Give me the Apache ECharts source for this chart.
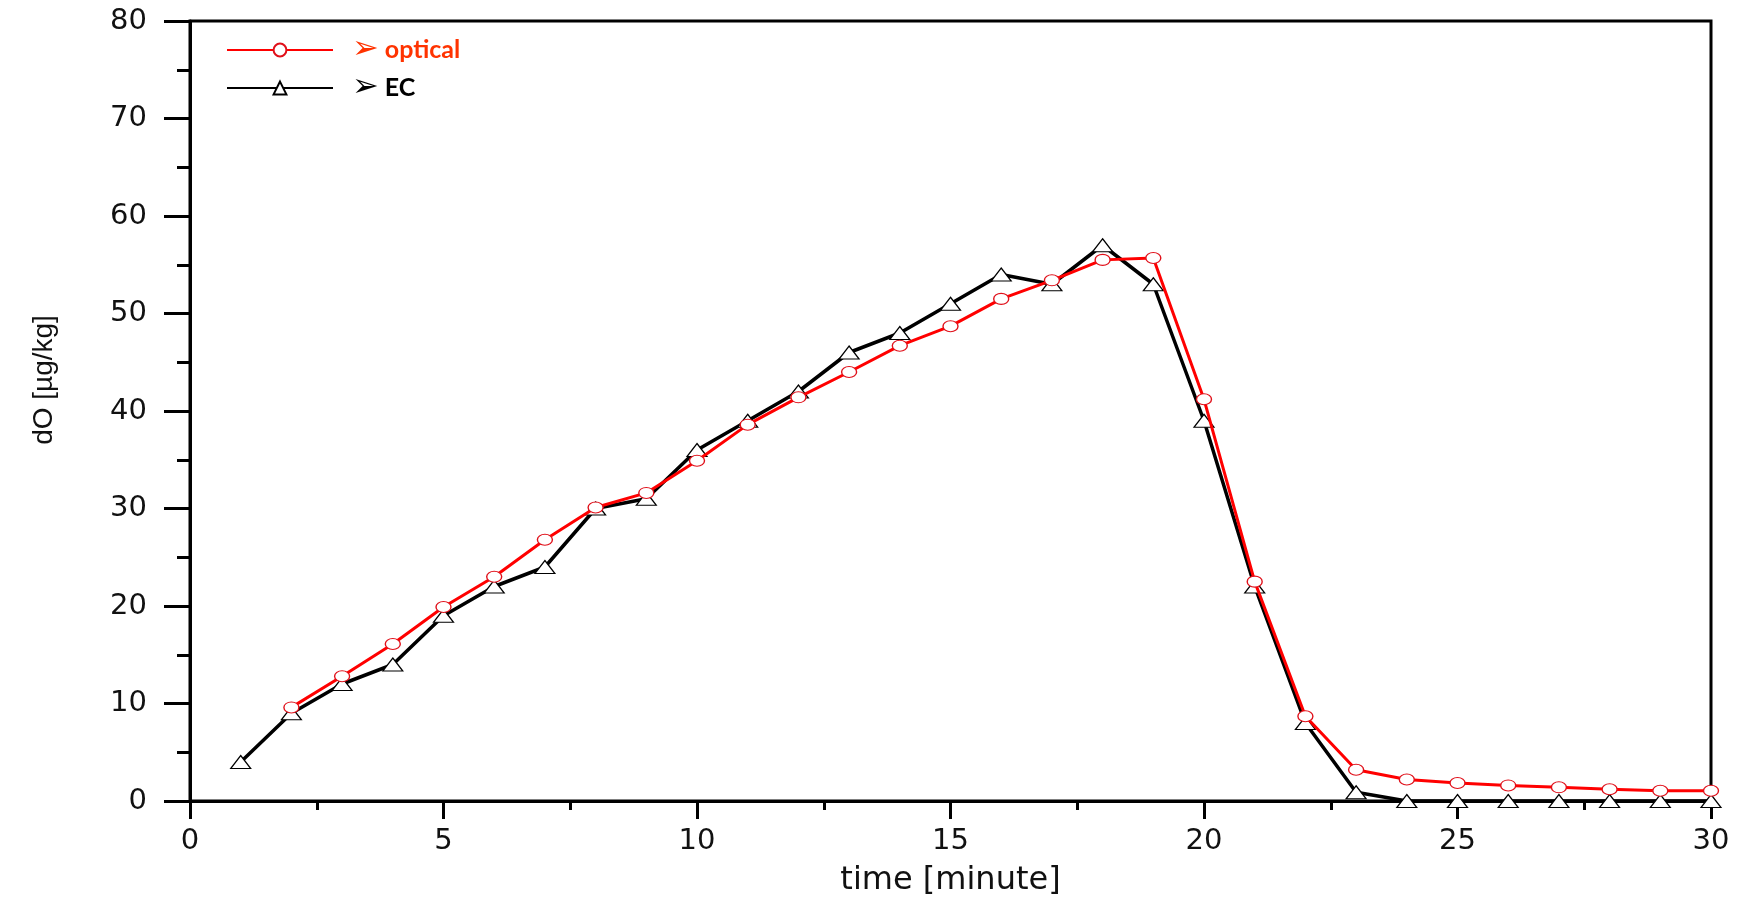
<!DOCTYPE html>
<html>
<head>
<meta charset="utf-8">
<script src="https://cdn.jsdelivr.net/npm/echarts@6/dist/echarts.min.js"></script>
<style>
html,body{margin:0;padding:0;background:#fff;}
#chart{width:1754px;height:902px;}
</style>
</head>
<body>
<div id="chart"></div>
<script>
// time [minute]
const timeMinutes = [1,2,3,4,5,6,7,8,9,10,11,12,13,14,15,16,17,18,19,20,21,22,23,24,25,26,27,28,29,30];
// optical series (no point at minute 1)
const opticalValues = [null,9.6,12.8,16.1,19.9,23.0,26.8,30.1,31.6,34.9,38.6,41.4,44.0,46.7,48.7,51.5,53.4,55.5,55.7,41.2,22.5,8.7,3.2,2.2,1.85,1.6,1.4,1.2,1.05,1.05];
// EC series
const ecValues = [4,9,12,14,19,22,24,30,31,36,39,42,46,48,51,54,53,57,53,39,22,8,0.9,0,0,0,0,0,0,0];
const seriesNames = ['optical','EC'];
const xTitle = 'time [minute]';
const yTitle = 'dO [\u00b5g/kg]';

const opticalData = timeMinutes.map((t,i)=>[t, opticalValues[i]]).filter(d=>d[1]!==null);
const ecData = timeMinutes.map((t,i)=>[t, ecValues[i]]);

const chart = echarts.init(document.getElementById('chart'));
const axisFont = 'DejaVu Sans';
chart.setOption({
  backgroundColor:'#fff',
  animation:false,
  grid:{left:190,right:43,top:21,bottom:100,show:true,borderColor:'#000',borderWidth:3,backgroundColor:'transparent'},
  legend:{
    orient:'vertical', left:226, top:34, itemWidth:106, itemHeight:16, itemGap:6, padding:0,
    data:[
      {name:seriesNames[0], textStyle:{color:'#ff3300'}},
      {name:seriesNames[1], textStyle:{color:'#000'}}
    ],
    formatter:function(n){return '{arr|\u27a2}{t|'+n+'}';},
    textStyle:{
      fontFamily:'Lato', fontWeight:'bold', fontSize:24, lineHeight:28,
      rich:{
        arr:{fontFamily:'DejaVu Sans', fontSize:32, lineHeight:28, padding:[0,0,0,14]},
        t:{fontFamily:'Lato', fontWeight:'bold', fontSize:25, lineHeight:28, padding:[0,0,0,6]}
      }
    }
  },
  xAxis:{
    type:'value', min:0, max:30, interval:5,
    name:xTitle, nameLocation:'middle', nameGap:64,
    nameTextStyle:{fontFamily:axisFont, fontSize:32, color:'#111'},
    axisLine:{show:true, onZero:false, lineStyle:{color:'#000', width:3}},
    axisTick:{show:true, inside:false, length:18, lineStyle:{color:'#000', width:3}},
    minorTick:{show:true, splitNumber:2, length:9, lineStyle:{color:'#000', width:3}},
    axisLabel:{fontFamily:axisFont, fontSize:29, color:'#111', margin:26},
    splitLine:{show:false}
  },
  yAxis:{
    type:'value', min:0, max:80, interval:10,
    name:yTitle, nameLocation:'middle', nameGap:132, nameRotate:90,
    nameTextStyle:{fontFamily:'Liberation Sans', fontSize:28, color:'#111', padding:[0,0,0,62]},
    axisLine:{show:true, lineStyle:{color:'#000', width:3}},
    axisTick:{show:true, inside:false, length:26, lineStyle:{color:'#000', width:3}},
    minorTick:{show:true, splitNumber:2, length:13, lineStyle:{color:'#000', width:3}},
    axisLabel:{fontFamily:axisFont, fontSize:29, color:'#111', margin:43},
    splitLine:{show:false}
  },
  series:[
    {
      name:seriesNames[0], type:'line', data:opticalData, z:3,
      symbol:'circle', symbolSize:[15,11], showAllSymbol:true,
      lineStyle:{color:'#ff0000', width:3},
      itemStyle:{color:'#fff', borderColor:'#e0101a', borderWidth:1.2}
    },
    {
      name:seriesNames[1], type:'line', data:ecData, z:2,
      symbol:'triangle', symbolSize:[20,13], showAllSymbol:true,
      lineStyle:{color:'#000', width:3.5},
      itemStyle:{color:'#fff', borderColor:'#000', borderWidth:1.2}
    }
  ]
});
</script>
</body>
</html>
